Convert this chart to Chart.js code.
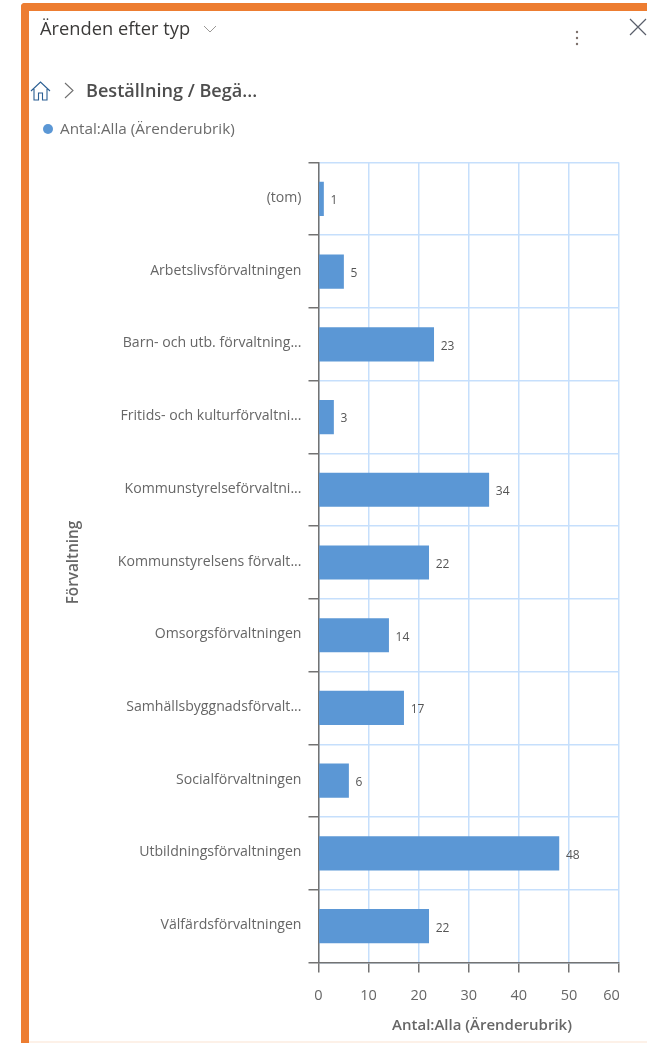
<!DOCTYPE html>
<html>
<head>
<meta charset="utf-8">
<script src="https://cdn.jsdelivr.net/npm/chart.js@4"></script>
<style>
  html, body { margin: 0; padding: 0; background: #fff; }
  body { width: 647px; height: 1043px; position: relative; overflow: hidden; font-family: "Open Sans", sans-serif; }
  #chart { position: absolute; left: 0; top: 0; }
  .frame { position: absolute; left: 21px; top: 3px; width: 640px; height: 1060px; border: 8px solid #ed7d31; border-right: 0; border-radius: 4px 0 0 0; box-sizing: border-box; }
  .foot { position: absolute; left: 29px; top: 1041px; width: 618px; height: 2px; background: #fdf1e8; }
  .txt { position: absolute; white-space: nowrap; line-height: 1; }
  #title { left: 40px; top: 19px; font-size: 18.3px; font-weight: 500; color: #3b3a39; }
  #crumb { left: 86px; top: 81px; font-size: 18.1px; font-weight: 600; color: #4d4d4d; }
  #legend { left: 60px; top: 121px; font-size: 15.3px; color: #6b6b6b; }
  .dot { position: absolute; left: 43px; top: 124px; width: 10px; height: 10px; border-radius: 50%; background: #5b97d5; }
  svg { position: absolute; overflow: visible; }
</style>
</head>
<body>
<canvas id="chart" width="647" height="1043"></canvas>
<div class="frame"></div>
<div class="foot"></div>
<div class="txt" id="title">Ärenden efter typ</div>
<div class="txt" id="crumb">Beställning / Begä...</div>
<div class="txt" id="legend">Antal:Alla (Ärenderubrik)</div>
<div class="dot"></div>
<svg style="left:203px;top:25px" width="14" height="8" fill="none" stroke="#9a9896" stroke-width="1"><path d="M1 1l6 6 6-6"/></svg>
<svg style="left:31px;top:81px" width="19" height="19" fill="none" stroke="#2b5f93" stroke-width="1.1"><path d="M0 10L9.5 1 19 10M3 8v11h4.5v-7h4v7H16V8"/></svg>
<svg style="left:64px;top:83px" width="10" height="15" fill="none" stroke="#6f6f6f" stroke-width="1.1"><path d="M1 0l8 7.5L1 15"/></svg>
<svg style="left:575px;top:30px" width="4" height="16" fill="#7b6f6a"><circle cx="2" cy="2" r="1.2"/><circle cx="2" cy="8" r="1.2"/><circle cx="2" cy="14" r="1.2"/></svg>
<svg style="left:629px;top:18px" width="18" height="18" fill="none" stroke="#5a5f6b" stroke-width="1.2"><path d="M1 1l16 16M17 1L1 17"/></svg>
<script>
const categories = ['(tom)', 'Arbetslivsförvaltningen', 'Barn- och utb. förvaltning...', 'Fritids- och kulturförvaltni...', 'Kommunstyrelseförvaltni...', 'Kommunstyrelsens förvalt...', 'Omsorgsförvaltningen', 'Samhällsbyggnadsförvalt...', 'Socialförvaltningen', 'Utbildningsförvaltningen', 'Välfärdsförvaltningen']
const values = [1, 5, 23, 3, 34, 22, 14, 17, 6, 48, 22]
const seriesName = 'Antal:Alla (Ärenderubrik)'
const yTitle = 'Förvaltning'

const FONT = '"Open Sans", sans-serif'
const GRID = '#c6dffc'
const AXIS = '#737373'
const TEXT = '#666666'

// value next to each bar and the off-centre x axis title
const extras = {
  id: 'extras',
  afterDatasetsDraw(chart) {
    const ctx = chart.ctx
    const meta = chart.getDatasetMeta(0)
    ctx.save()
    ctx.fillStyle = '#555555'
    ctx.font = '12px ' + FONT
    ctx.textBaseline = 'middle'
    ctx.textAlign = 'left'
    meta.data.forEach((bar, i) => ctx.fillText(values[i], bar.x + 7, bar.y + 2))
    ctx.fillStyle = TEXT
    ctx.font = '600 15px ' + FONT
    ctx.textAlign = 'center'
    ctx.fillText(seriesName, 482, 1026)
    ctx.restore()
  }
}

new Chart(document.getElementById('chart').getContext('2d'), {
  type: 'bar',
  plugins: [extras],
  data: {
    labels: categories,
    datasets: [{
      label: seriesName,
      data: values,
      backgroundColor: '#5b97d5',
      barThickness: 33.5
    }]
  },
  options: {
    indexAxis: 'y',
    responsive: false,
    animation: false,
    layout: { padding: { left: 0, right: 28, top: 162.5, bottom: 0 } },
    plugins: { legend: { display: false }, tooltip: { enabled: false } },
    scales: {
      x: {
        min: 0,
        max: 60,
        afterFit: (scale) => {
          scale.height = 80.5
          scale.paddingLeft = 0
          scale.paddingRight = 0
        },
        border: { color: AXIS, width: 1.5 },
        grid: { color: GRID, lineWidth: 1.5, tickColor: AXIS, tickLength: 10 },
        ticks: {
          stepSize: 10,
          maxRotation: 0,
          padding: 15,
          color: TEXT,
          font: { family: FONT, size: 14.5 },
          // last label sits inside the plot edge
          callback: (v) => v === 60 ? '60\u00a0\u00a0\u00a0\u00a0' : String(v)
        }
      },
      y: {
        afterFit: (scale) => {
          scale.width = 318.5
          scale.paddingTop = 0
          scale.paddingBottom = 0
        },
        border: { color: AXIS, width: 1.5 },
        grid: { color: GRID, lineWidth: 1.5, tickColor: AXIS, tickLength: 10 },
        ticks: {
          padding: 7,
          autoSkip: false,
          labelOffset: -1,
          color: TEXT,
          font: { family: FONT, size: 14.1 }
        },
        title: {
          display: true,
          text: yTitle,
          color: TEXT,
          font: { family: FONT, size: 15.3, weight: '600' },
          padding: { top: 64, bottom: 0 }
        }
      }
    }
  }
})
</script>
</body>
</html>
